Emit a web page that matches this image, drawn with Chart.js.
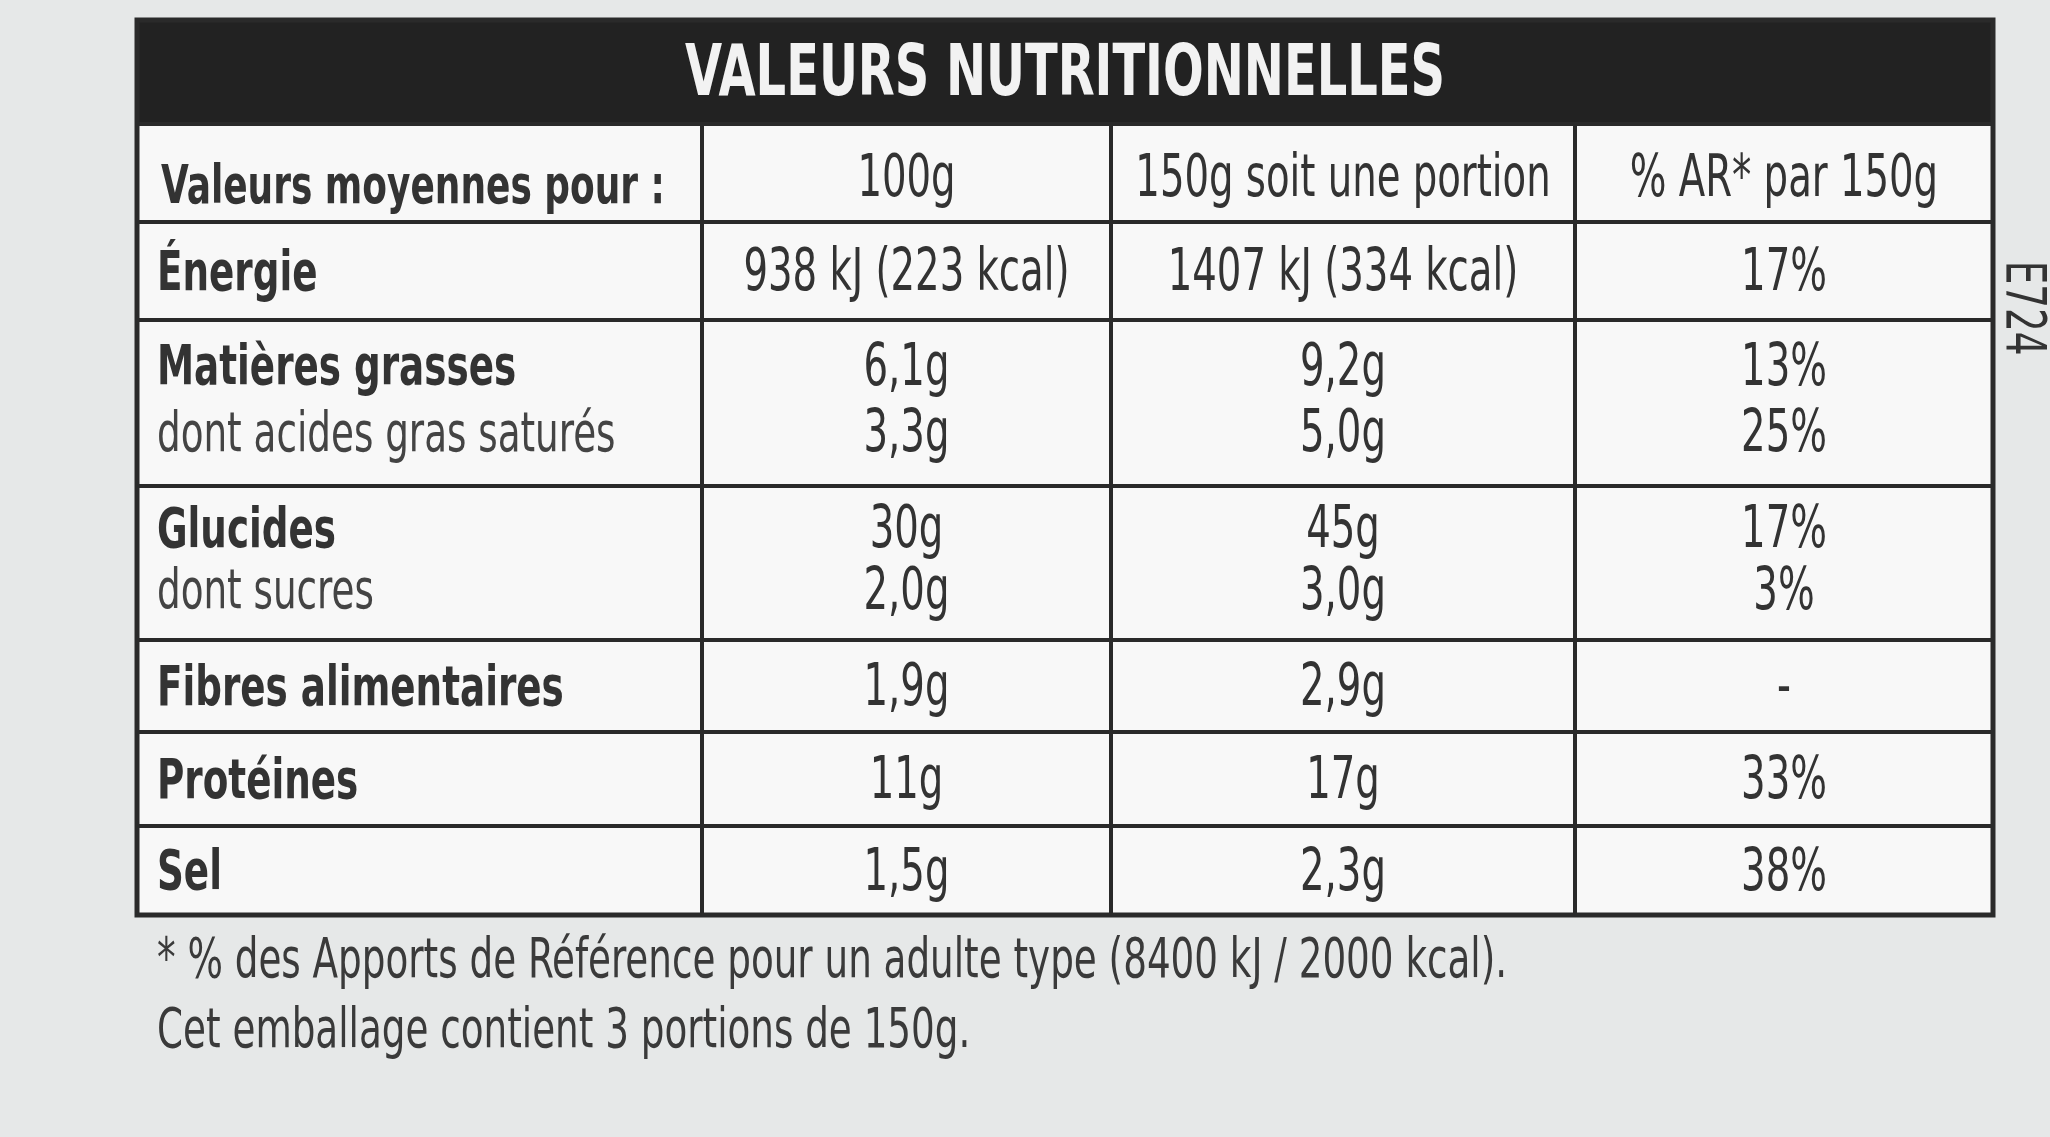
<!DOCTYPE html>
<html><head><meta charset="utf-8">
<script src="https://cdn.jsdelivr.net/npm/chart.js@4/dist/chart.umd.min.js"></script>
<style>html,body{margin:0;padding:0;background:#e6e8e8;}#c{display:block}</style>
</head><body>
<div style="width:2050px;height:1137px"><canvas id="c"></canvas></div>
<script>
const title = "VALEURS NUTRITIONNELLES";
const headers = ["Valeurs moyennes pour :", "100g", "150g soit une portion", "% AR* par 150g"];
const rowMain = ["Énergie", "Matières grasses", "Glucides", "Fibres alimentaires", "Protéines", "Sel"];
const rowSub = ["", "dont acides gras saturés", "dont sucres", "", "", ""];
const per100 = [["938 kJ (223 kcal)"], ["6,1g","3,3g"], ["30g","2,0g"], ["1,9g"], ["11g"], ["1,5g"]];
const perPortion = [["1407 kJ (334 kcal)"], ["9,2g","5,0g"], ["45g","3,0g"], ["2,9g"], ["17g"], ["2,3g"]];
const percentAR = [["17%"], ["13%","25%"], ["17%","3%"], ["-"], ["33%"], ["38%"]];
const footnotes = ["* % des Apports de Référence pour un adulte type (8400 kJ / 2000 kcal).", "Cet emballage contient 3 portions de 150g."];

const colEdges = [137, 702, 1111, 1575, 1993];
const rowEdges = [124, 222, 320, 486, 640, 732, 826, 915];
const tableTop = 20;
const FONT = '"DejaVu Sans Condensed","Liberation Sans",sans-serif';
const SX = 0.74;

function txt(ctx, s, x, y) {
  ctx.save(); ctx.translate(x, y); ctx.scale(SX, 1); ctx.fillText(s, 0, 0); ctx.restore();
}

const tablePlugin = {
  id: 'table',
  afterDraw(chart) {
    const ctx = chart.ctx, X = v => chart.scales.x.getPixelForValue(v), Y = v => chart.scales.y.getPixelForValue(v);
    const L = X(colEdges[0]), R = X(colEdges[4]), T = Y(tableTop), B = Y(rowEdges[rowEdges.length-1]);
    ctx.save();
    ctx.fillStyle = '#f8f8f8';
    ctx.fillRect(L, T, R-L, B-T);
    ctx.fillStyle = '#222';
    ctx.fillRect(L, T, R-L, Y(rowEdges[0])-T);
    ctx.fillStyle = '#f2f2f2';
    ctx.font = 'bold 72px ' + FONT;
    ctx.textAlign = 'center'; ctx.textBaseline = 'middle';
    txt(ctx, title, (L+R)/2, (T+Y(rowEdges[0]))/2 + 4);
    ctx.strokeStyle = '#2a2a2a'; ctx.lineWidth = 5;
    ctx.strokeRect(L, T, R-L, B-T);
    ctx.lineWidth = 4;
    rowEdges.forEach(r => { ctx.beginPath(); ctx.moveTo(L, Y(r)); ctx.lineTo(R, Y(r)); ctx.stroke(); });
    colEdges.slice(1,4).forEach(c => { ctx.beginPath(); ctx.moveTo(X(c), Y(rowEdges[0])); ctx.lineTo(X(c), B); ctx.stroke(); });
    ctx.fillStyle = '#333';
    const hy = (Y(rowEdges[0])+Y(rowEdges[1]))/2 + 8;
    ctx.font = 'bold 54px ' + FONT; ctx.textAlign = 'left';
    txt(ctx, headers[0], L + 24, hy + 8);
    ctx.font = '58px ' + FONT; ctx.textAlign = 'center';
    for (let i = 1; i < 4; i++) txt(ctx, headers[i], (X(colEdges[i])+X(colEdges[i+1]))/2, hy);
    const cols = [per100, perPortion, percentAR];
    rowMain.forEach((name, i) => {
      const t = Y(rowEdges[i+1]), b = Y(rowEdges[i+2]);
      const two = rowSub[i] !== '';
      const ys = two ? [t + (b-t)*0.3, t + (b-t)*0.7] : [(t+b)/2 + 4];
      ctx.textAlign = 'left';
      ctx.font = 'bold 56px ' + FONT; ctx.fillStyle = '#333';
      txt(ctx, name, L + 20, ys[0]);
      if (two) { ctx.font = '56px ' + FONT; ctx.fillStyle = '#444'; txt(ctx, rowSub[i], L + 20, ys[1]); }
      ctx.font = '58px ' + FONT; ctx.fillStyle = '#333'; ctx.textAlign = 'center';
      cols.forEach((col, j) => {
        const cx = (X(colEdges[j+1]) + X(colEdges[j+2]))/2;
        col[i].forEach((v, k) => txt(ctx, v, cx, ys[k]));
      });
    });
    ctx.textAlign = 'left'; ctx.fillStyle = '#3a3a3a'; ctx.font = '56px ' + FONT;
    txt(ctx, footnotes[0], X(157), Y(962));
    txt(ctx, footnotes[1], X(157), Y(1032));
    ctx.save(); ctx.translate(X(2022), Y(308)); ctx.rotate(Math.PI/2);
    ctx.font = '56px ' + FONT; ctx.textAlign = 'center'; ctx.fillStyle = '#333';
    txt(ctx, 'E724', 0, 0); ctx.restore();
    ctx.restore();
  }
};

new Chart(document.getElementById('c'), {
  type: 'scatter',
  data: { datasets: [{ data: [], pointRadius: 0 }] },
  options: {
    responsive: true, maintainAspectRatio: false, animation: false,
    layout: { padding: 0 },
    plugins: { legend: { display: false }, tooltip: { enabled: false } },
    scales: {
      x: { type: 'linear', min: 0, max: 2050, display: false },
      y: { type: 'linear', min: 0, max: 1137, reverse: true, display: false }
    }
  },
  plugins: [tablePlugin]
});
</script>
</body></html>
